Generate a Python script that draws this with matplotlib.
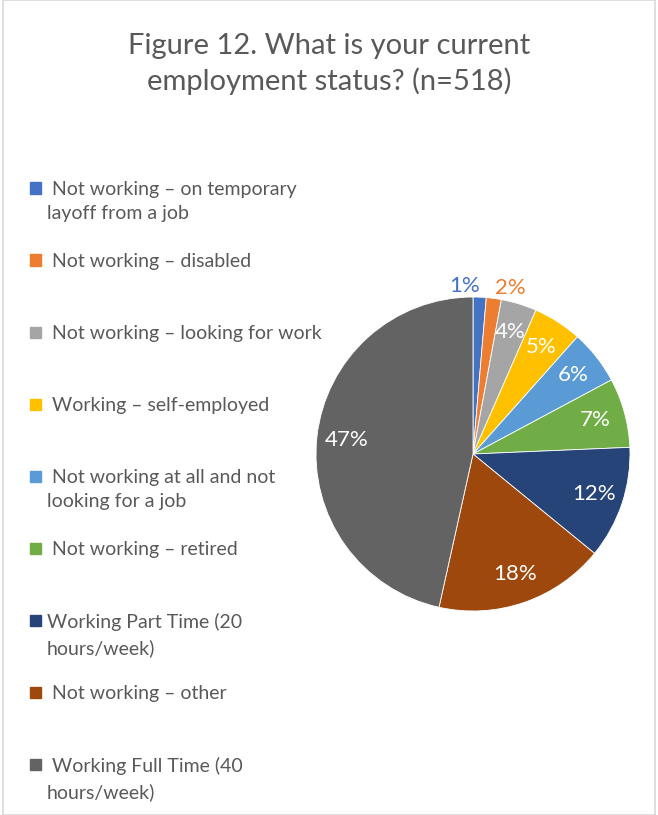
import matplotlib.pyplot as plt
from matplotlib.patches import Rectangle
import numpy as np

# Survey responses (n=518)
categories = [
    ' Not working – on temporary\nlayoff from a job',
    ' Not working – disabled',
    ' Not working – looking for work',
    ' Working – self-employed',
    ' Not working at all and not\nlooking for a job',
    ' Not working – retired',
    'Working Part Time (20\nhours/week)',
    ' Not working – other',
    ' Working Full Time (40\nhours/week)',
]
counts = [7, 8, 19, 26, 29, 37, 60, 91, 241]
colors = ['#4472C4', '#ED7D31', '#A5A5A5', '#FFC000', '#5B9BD5',
          '#70AD47', '#264478', '#9E480E', '#636363']

plt.rcParams['font.family'] = ['Lato', 'DejaVu Sans']
text_color = '#595959'

W, H = 658, 815
fig = plt.figure(figsize=(W / 100, H / 100), dpi=100)

# chart border
fig.patches.append(Rectangle((3 / W, 0), (W - 6) / W, 1, transform=fig.transFigure,
                             fill=False, edgecolor='#D9D9D9', linewidth=1.2))

fig.text(0.5, 1 - 64 / H, 'Figure 12. What is your current\nemployment status? (n=518)',
         ha='center', va='center', fontsize=21, color=text_color, linespacing=1.35)

# pie: center (473, 454) px, radius 157 px
cx, cy, r = 473, 454, 157
ax = fig.add_axes([(cx - r) / W, (H - cy - r) / H, 2 * r / W, 2 * r / H])
wedges, texts, autotexts = ax.pie(
    counts, colors=colors, startangle=90, counterclock=False,
    autopct=lambda p: f'{p:.0f}%', pctdistance=0.81,
    wedgeprops=dict(edgecolor='white', linewidth=0.6),
    textprops=dict(color='white', fontsize=16))
ax.set_xlim(-1, 1)
ax.set_ylim(-1, 1)

# the two smallest slices get their labels outside, in the slice colour
for i, ha in [(0, 'right'), (1, 'left')]:
    w = wedges[i]
    ang = np.deg2rad((w.theta1 + w.theta2) / 2)
    autotexts[i].set_position((1.07 * np.cos(ang), 1.07 * np.sin(ang)))
    autotexts[i].set_ha(ha)
    autotexts[i].set_color(colors[i])

# legend, drawn by hand to keep Excel's even spacing
y0, step = 188, 72.0
for i, (lab, col) in enumerate(zip(categories, colors)):
    y = y0 + i * step
    fig.patches.append(Rectangle((30 / W, 1 - (y + 5.5) / H), 11 / W, 11 / H,
                                 transform=fig.transFigure, color=col))
    fig.text(47 / W, 1 - (y - 7) / H, lab, ha='left', va='top', fontsize=14,
             color=text_color, linespacing=1.52)

fig.savefig('out.png', dpi=100)
